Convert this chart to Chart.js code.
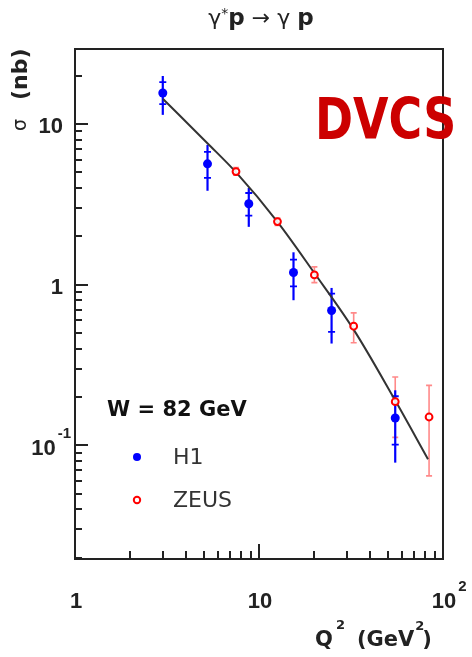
<!DOCTYPE html>
<html>
<head>
<meta charset="utf-8">
<script src="https://cdn.jsdelivr.net/npm/chart.js@4.4.0/dist/chart.umd.min.js"></script>
<style>
    html, body { margin: 0; padding: 0; background: #fff; }
    #wrap { width: 472px; height: 657px; position: relative; }
</style>
</head>
<body>
<div id="wrap"><canvas id="dvcsChart"></canvas></div>
<script>
// H1 points (Q2 in GeV^2, sigma in nb) with stat and total errors
const h1Q2 = [3.0, 5.25, 8.8, 15.4, 24.8, 55];
const h1Sigma = [15.6, 5.65, 3.19, 1.19, 0.69, 0.148];
const h1StatLo = [13.3, 4.62, 2.69, 0.976, 0.508, 0.101];
const h1StatHi = [18.2, 6.70, 3.72, 1.43, 0.88, 0.202];
const h1TotLo = [11.4, 3.84, 2.29, 0.80, 0.43, 0.078];
const h1TotHi = [19.9, 7.41, 4.0, 1.59, 0.954, 0.22];

// ZEUS points
const zeusQ2 = [7.5, 12.6, 20, 32.7, 55, 84];
const zeusSigma = [5.06, 2.47, 1.15, 0.551, 0.187, 0.15];
const zeusLo = [4.8, 2.34, 1.03, 0.435, 0.112, 0.0645];
const zeusHi = [5.35, 2.6, 1.29, 0.667, 0.266, 0.236];

// theory curve
const curveQ2 = [3.01, 5.26, 7.47, 12.6, 19.9, 32.7, 53.5, 82.9];
const curveSigma = [14.3, 7.57, 5.03, 2.46, 1.19, 0.525, 0.201, 0.0819];

// axis ticks
const xMajor = [1, 10, 100];
const xMinor = [2, 3, 4, 5, 6, 7, 8, 9, 20, 30, 40, 50, 60, 70, 80, 90];
const yMajor = [0.1, 1, 10];
const yMinor = [0.02, 0.03, 0.04, 0.05, 0.06, 0.07, 0.08, 0.09,
                0.2, 0.3, 0.4, 0.5, 0.6, 0.7, 0.8, 0.9,
                2, 3, 4, 5, 6, 7, 8, 9, 20];
const xLabelText = ['1', '10', '10'];
const xLabelSup = ['', '', '2'];
const yLabelText = ['10', '1', '10'];
const yLabelSup = ['-1', '', ''];

const blue = '#0000ff';
const red = '#ff0000';
const ink = '#222';

const toPts = (xs, ys) => xs.map((x, i) => ({ x: x, y: ys[i] }));

// dibuja texto con superindice
const drawSup = (ctx, base, sup, x, y, baseFont, supFont, align) => {
    ctx.font = baseFont;
    const wb = ctx.measureText(base).width;
    ctx.font = supFont;
    const ws = sup ? ctx.measureText(sup).width + 2 : 0;
    let left = x;
    if (align === 'center') left = x - wb / 2;
    if (align === 'right') left = x - wb - ws;
    ctx.textAlign = 'left';
    ctx.font = baseFont;
    ctx.fillText(base, left, y);
    if (sup) {
        ctx.font = supFont;
        ctx.fillText(sup, left + wb + 2, y - 15);
    }
};

const decorPlugin = {
    id: 'decor',
    beforeDatasetsDraw(chart) {
        const ctx = chart.ctx;
        const xs = chart.scales.x;
        const ys = chart.scales.y;
        ctx.save();
        // ZEUS error bars
        ctx.strokeStyle = 'rgba(255, 40, 40, 0.55)';
        ctx.lineWidth = 1.6;
        zeusQ2.forEach((q, i) => {
            const px = xs.getPixelForValue(q);
            const y1 = ys.getPixelForValue(zeusLo[i]);
            const y2 = ys.getPixelForValue(zeusHi[i]);
            ctx.beginPath();
            ctx.moveTo(px, y1); ctx.lineTo(px, y2);
            ctx.moveTo(px - 3, y1); ctx.lineTo(px + 3, y1);
            ctx.moveTo(px - 3, y2); ctx.lineTo(px + 3, y2);
            ctx.stroke();
        });
        // H1 error bars
        ctx.strokeStyle = blue;
        h1Q2.forEach((q, i) => {
            const px = xs.getPixelForValue(q);
            ctx.lineWidth = 2.2;
            ctx.beginPath();
            ctx.moveTo(px, ys.getPixelForValue(h1TotLo[i]));
            ctx.lineTo(px, ys.getPixelForValue(h1TotHi[i]));
            ctx.stroke();
            ctx.lineWidth = 1.8;
            ctx.beginPath();
            [h1StatLo[i], h1StatHi[i]].forEach(v => {
                const py = ys.getPixelForValue(v);
                ctx.moveTo(px - 3.5, py); ctx.lineTo(px + 3.5, py);
            });
            ctx.stroke();
        });
        ctx.restore();
    },
    afterDraw(chart) {
        const ctx = chart.ctx;
        const area = chart.chartArea;
        const xs = chart.scales.x;
        const ys = chart.scales.y;
        ctx.save();

        // marco
        ctx.strokeStyle = ink;
        ctx.lineWidth = 2;
        ctx.strokeRect(area.left, area.top, area.right - area.left, area.bottom - area.top);

        // ticks hacia dentro
        ctx.lineWidth = 2;
        ctx.beginPath();
        xMajor.forEach(v => {
            const px = Math.round(xs.getPixelForValue(v));
            ctx.moveTo(px, area.bottom); ctx.lineTo(px, area.bottom - 15);
        });
        xMinor.forEach(v => {
            const px = Math.round(xs.getPixelForValue(v));
            ctx.moveTo(px, area.bottom); ctx.lineTo(px, area.bottom - 8);
        });
        yMajor.forEach(v => {
            const py = Math.round(ys.getPixelForValue(v));
            ctx.moveTo(area.left, py); ctx.lineTo(area.left + 13, py);
        });
        yMinor.forEach(v => {
            const py = Math.round(ys.getPixelForValue(v));
            ctx.moveTo(area.left, py); ctx.lineTo(area.left + 7, py);
        });
        ctx.stroke();

        // etiquetas de los ejes
        ctx.fillStyle = ink;
        ctx.textBaseline = 'middle';
        const tickFont = 'bold 22px "Liberation Sans", Arial, sans-serif';
        const supFont = 'bold 15px "Liberation Sans", Arial, sans-serif';
        xMajor.forEach((v, i) => {
            drawSup(ctx, xLabelText[i], xLabelSup[i], xs.getPixelForValue(v) + 1, 602, tickFont, supFont, 'center');
        });
        yMajor.forEach((v, i) => {
            const py = ys.getPixelForValue(v) + (yLabelSup[i] ? 4 : 3);
            drawSup(ctx, yLabelText[i], yLabelSup[i], yLabelSup[i] ? 71 : 63, py, tickFont, supFont, 'right');
        });

        // titulo eje x: Q^2 (GeV^2)
        const tFont = 'bold 21px "DejaVu Sans", sans-serif';
        const tSup = 'bold 13px "DejaVu Sans", sans-serif';
        ctx.textAlign = 'left';
        ctx.font = tFont;
        ctx.fillText('Q', 315, 641);
        ctx.font = tSup;
        ctx.fillText('2', 336, 626);
        ctx.font = tFont;
        ctx.fillText('(GeV', 357, 641);
        const wGeV = ctx.measureText('(GeV').width;
        ctx.font = tSup;
        ctx.fillText('2', 357 + wGeV + 1, 627);
        ctx.font = tFont;
        ctx.fillText(')', 357 + wGeV + 8, 641);

        // titulo eje y: sigma (nb)
        ctx.save();
        ctx.translate(21, 131);
        ctx.rotate(-Math.PI / 2);
        ctx.font = '19px "DejaVu Sans", sans-serif';
        ctx.fillText('σ', 0, 0);
        ctx.font = 'bold 22px "DejaVu Sans", sans-serif';
        ctx.fillText('(nb)', 31, 0);
        ctx.restore();

        // titulo superior
        const pieces = [
            ['γ', '22px "DejaVu Sans", sans-serif', 0],
            ['*', '14px "DejaVu Sans", sans-serif', -5],
            ['p', 'bold 23px "DejaVu Sans", sans-serif', 0],
            [' → γ ', '22px "DejaVu Sans", sans-serif', 0],
            ['p', 'bold 23px "DejaVu Sans", sans-serif', 0]
        ];
        let total = 0;
        pieces.forEach(p => { ctx.font = p[1]; total += ctx.measureText(p[0]).width; });
        let tx = 261 - total / 2;
        pieces.forEach(p => {
            ctx.font = p[1];
            ctx.fillText(p[0], tx, 19 + p[2]);
            tx += ctx.measureText(p[0]).width;
        });

        // leyenda
        ctx.fillStyle = '#111';
        ctx.font = 'bold 21px "DejaVu Sans", sans-serif';
        ctx.fillText('W = 82 GeV', 107, 411);
        ctx.fillStyle = '#333';
        ctx.font = '22px "DejaVu Sans", sans-serif';
        ctx.fillText('H1', 173, 458);
        ctx.fillText('ZEUS', 173, 501);
        ctx.fillStyle = blue;
        ctx.beginPath();
        ctx.arc(137, 457, 4, 0, Math.PI * 2);
        ctx.fill();
        ctx.strokeStyle = red;
        ctx.lineWidth = 2;
        ctx.beginPath();
        ctx.arc(137, 500, 3.2, 0, Math.PI * 2);
        ctx.stroke();

        // DVCS
        ctx.save();
        ctx.fillStyle = '#cc0000';
        ctx.font = 'bold 45px "DejaVu Sans", sans-serif';
        ctx.textBaseline = 'alphabetic';
        ctx.translate(315, 139);
        ctx.scale(1.02, 1.25);
        ctx.fillText('DVCS', 0, 0);
        ctx.restore();

        ctx.restore();
    }
};

const ctx = document.getElementById('dvcsChart').getContext('2d');
new Chart(ctx, {
    type: 'scatter',
    data: {
        datasets: [
            {
                label: 'curve',
                type: 'line',
                data: toPts(curveQ2, curveSigma),
                borderColor: '#333',
                borderWidth: 2,
                pointRadius: 0,
                cubicInterpolationMode: 'monotone',
                fill: false,
                order: 3
            },
            {
                label: 'ZEUS',
                data: toPts(zeusQ2, zeusSigma),
                pointStyle: 'circle',
                pointRadius: 3.4,
                pointBorderWidth: 2,
                pointBorderColor: red,
                pointBackgroundColor: 'rgba(255,255,255,0.9)',
                order: 2
            },
            {
                label: 'H1',
                data: toPts(h1Q2, h1Sigma),
                pointStyle: 'circle',
                pointRadius: 4.5,
                pointBorderWidth: 0,
                pointBackgroundColor: blue,
                order: 1
            }
        ]
    },
    options: {
        responsive: true,
        maintainAspectRatio: false,
        animation: false,
        layout: { padding: { left: 75, right: 29, top: 49, bottom: 98 } },
        plugins: {
            legend: { display: false },
            title: { display: false },
            tooltip: { enabled: false }
        },
        scales: {
            x: { type: 'logarithmic', min: 1, max: 100, display: false },
            y: { type: 'logarithmic', min: 0.0196, max: 29.3, display: false }
        }
    },
    plugins: [decorPlugin]
});
</script>
</body>
</html>
